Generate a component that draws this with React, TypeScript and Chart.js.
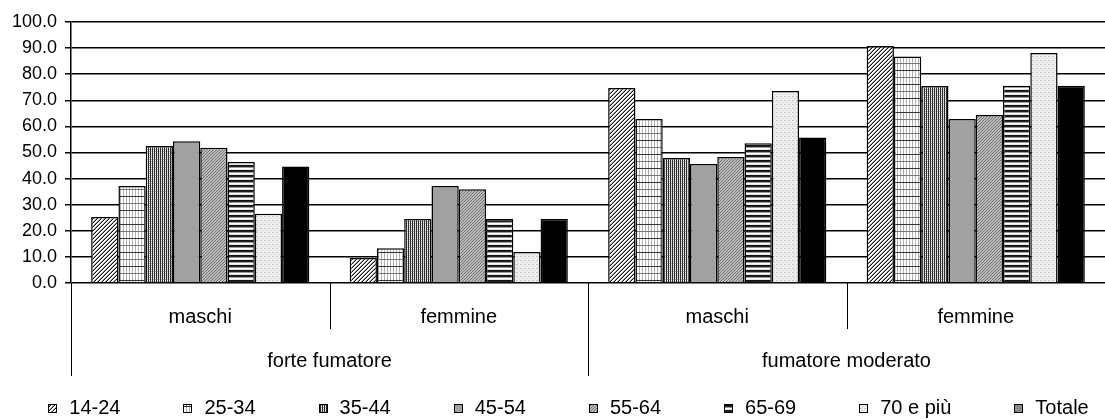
import React, { useEffect, useRef } from 'react';
import { Chart, registerables } from 'chart.js';

Chart.register(...registerables);

// ---- data ----
const groups = ['forte fumatore', 'fumatore moderato'];
const categories = ['maschi', 'femmine', 'maschi', 'femmine'];
const categoryGroups = ['forte fumatore', 'forte fumatore', 'fumatore moderato', 'fumatore moderato'];
const seriesNames = ['14-24', '25-34', '35-44', '45-54', '55-64', '65-69', '70 e più', 'Totale'];
const v1424 = [25.3, 9.6, 74.7, 90.8];
const v2534 = [37.2, 13.3, 62.8, 86.8];
const v3544 = [52.5, 24.5, 47.9, 75.5];
const v4554 = [54.3, 37.2, 45.6, 62.8];
const v5564 = [51.8, 35.9, 48.3, 64.4];
const v6569 = [46.4, 24.5, 53.5, 75.6];
const v70 = [26.5, 11.9, 73.6, 88.1];
const vTot = [44.6, 24.5, 55.7, 75.6];
const seriesValues = [v1424, v2534, v3544, v4554, v5564, v6569, v70, vTot];
const yMin = 0;
const yMax = 100;
const yStep = 10;

const FONT_FAMILY = "'Liberation Sans', Arial, sans-serif";
const AXIS_FONT_SIZE = 18;
const LABEL_FONT_SIZE = 20;
const LABEL_FONT = `${LABEL_FONT_SIZE}px ${FONT_FAMILY}`;

type Painter = (g: CanvasRenderingContext2D) => void;

function tile(w: number, h: number, paint: Painter): HTMLCanvasElement {
  const c = document.createElement('canvas');
  c.width = w;
  c.height = h;
  const g = c.getContext('2d')!;
  paint(g);
  return c;
}

function px(g: CanvasRenderingContext2D, x: number, y: number, color: string) {
  g.fillStyle = color;
  g.fillRect(x, y, 1, 1);
}

function makePatterns(ctx: CanvasRenderingContext2D): (CanvasPattern | string)[] {
  const pat = (c: HTMLCanvasElement) => ctx.createPattern(c, 'repeat') as CanvasPattern;
  // 14-24: upward diagonal lines on white
  const p1 = tile(4, 4, (g) => {
    g.fillStyle = '#fff';
    g.fillRect(0, 0, 4, 4);
    for (let y = 0; y < 4; y++)
      for (let x = 0; x < 4; x++) {
        const k = (x + y) % 4;
        if (k === 3) px(g, x, y, '#111');
        else if (k === 2) px(g, x, y, '#a0a0a0');
      }
  });
  // 25-34: grid, fine vertical grey lines, darker horizontal lines
  const p2 = tile(3, 14, (g) => {
    g.fillStyle = '#fff';
    g.fillRect(0, 0, 3, 14);
    for (let y = 0; y < 14; y++) px(g, 0, y, '#b0b0b0');
    for (let x = 0; x < 3; x++) {
      px(g, x, 0, '#333');
      px(g, x, 7, '#777');
    }
  });
  // 35-44: dense vertical dashes
  const p3 = tile(2, 2, (g) => {
    px(g, 0, 0, '#222');
    px(g, 0, 1, '#333');
    px(g, 1, 0, '#fff');
    px(g, 1, 1, '#b5b5b5');
  });
  // 45-54: medium grey, fine dots
  const p4 = tile(2, 2, (g) => {
    px(g, 0, 0, '#999');
    px(g, 1, 0, '#a8a8a8');
    px(g, 0, 1, '#a8a8a8');
    px(g, 1, 1, '#9c9c9c');
  });
  // 55-64: grey with darker diagonal lines
  const p5 = tile(3, 3, (g) => {
    for (let y = 0; y < 3; y++)
      for (let x = 0; x < 3; x++) {
        px(g, x, y, (x + y) % 3 === 2 ? '#6e6e6e' : '#bdbdbd');
      }
  });
  // 65-69: horizontal stripes
  const p6 = tile(1, 5, (g) => {
    const rows = ['#111', '#222', '#9a9a9a', '#fff', '#e6e6e6'];
    rows.forEach((c, y) => px(g, 0, y, c));
  });
  // 70 e più: light dotted grey
  const p7 = tile(4, 4, (g) => {
    g.fillStyle = '#eeeeee';
    g.fillRect(0, 0, 4, 4);
    px(g, 0, 0, '#c4c4c4');
    px(g, 1, 0, '#cfcfcf');
    px(g, 2, 2, '#d2d2d2');
  });
  return [pat(p1), pat(p2), pat(p3), pat(p4), pat(p5), pat(p6), pat(p7), '#000'];
}

const categoryAxisPlugin = {
  id: 'categoryAxis',
  afterDraw(chart: any) {
    const { ctx, chartArea: a } = chart;
    const x = chart.scales.x;
    const n = categories.length;
    const step = x.getPixelForValue(1) - x.getPixelForValue(0);
    const edge = (i: number) => x.getPixelForValue(0) + (i - 0.5) * step;
    ctx.save();
    ctx.strokeStyle = '#000';
    ctx.lineWidth = 1;
    for (let i = 0; i <= n; i++) {
      const major = i === 0 || i === n || categoryGroups[i] !== categoryGroups[i - 1];
      const lx = Math.round(edge(i)) + 0.5;
      ctx.beginPath();
      ctx.moveTo(lx, a.bottom);
      ctx.lineTo(lx, a.bottom + (major ? 93 : 46));
      ctx.stroke();
    }
    ctx.fillStyle = '#000';
    ctx.font = LABEL_FONT;
    ctx.textAlign = 'center';
    ctx.textBaseline = 'alphabetic';
    categories.forEach((c, i) => ctx.fillText(c, x.getPixelForValue(i), a.bottom + 40));
    groups.forEach((gName) => {
      const idx = categoryGroups.map((g, i) => (g === gName ? i : -1)).filter((i) => i >= 0);
      const cx = (edge(idx[0]) + edge(idx[idx.length - 1] + 1)) / 2;
      ctx.fillText(gName, cx, a.bottom + 84);
    });
    ctx.restore();
  },
};

const swatchLegendPlugin = {
  id: 'swatchLegend',
  afterDraw(chart: any) {
    const { ctx } = chart;
    const box = 9;
    const gap = 12;
    const spacing = 63;
    ctx.save();
    ctx.font = LABEL_FONT;
    const items = chart.data.datasets.map((d: any) => ({
      label: d.label as string,
      fill: d.legendFill ?? d.backgroundColor,
      w: box + gap + ctx.measureText(d.label).width,
    }));
    const total = items.reduce((s: number, it: any) => s + it.w, 0) + spacing * (items.length - 1);
    let cx = chart.width / 2 + 16 - total / 2;
    const cy = chart.height - 11;
    ctx.textBaseline = 'middle';
    ctx.textAlign = 'left';
    items.forEach((it: any) => {
      const bx = Math.round(cx);
      const by = Math.round(cy - box / 2);
      ctx.fillStyle = it.fill;
      ctx.fillRect(bx, by, box, box);
      ctx.strokeStyle = '#000';
      ctx.lineWidth = 1;
      ctx.strokeRect(bx + 0.5, by + 0.5, box - 1, box - 1);
      ctx.fillStyle = '#000';
      ctx.fillText(it.label, cx + box + gap, cy);
      cx += it.w + spacing;
    });
    ctx.restore();
  },
};

export default function App() {
  const ref = useRef<HTMLCanvasElement | null>(null);
  useEffect(() => {
    const canvas = ref.current!;
    const ctx = canvas.getContext('2d')!;
    const fills = makePatterns(ctx);
    const datasets = seriesNames.map((name, i) => ({
      label: name,
      data: seriesValues[i],
      backgroundColor: fills[i],
      legendFill: name === 'Totale' ? '#8a8a8a' : fills[i],
      borderColor: '#000',
      borderWidth: 1.5,
      borderSkipped: 'bottom' as const,
      categoryPercentage: 0.844,
      barPercentage: 1.0,
    }));
    const chart = new Chart(canvas, {
      type: 'bar',
      data: { labels: categories, datasets },
      options: {
        animation: false,
        responsive: false,
        maintainAspectRatio: false,
        layout: { padding: { left: 3, right: -10, top: 22, bottom: 136 } },
        plugins: {
          legend: { display: false },
          tooltip: { enabled: false },
          title: { display: false },
        },
        scales: {
          x: {
            type: 'category',
            display: false,
            offset: true,
          },
          y: {
            min: yMin,
            max: yMax,
            afterFit: (s: any) => {
              s.width = 68;
            },
            ticks: {
              stepSize: yStep,
              color: '#000',
              padding: 8,
              font: { family: FONT_FAMILY, size: AXIS_FONT_SIZE },
              callback: (v: any) => Number(v).toFixed(1),
            },
            grid: { color: '#000', lineWidth: 1.5, tickLength: 6, drawTicks: true },
            border: { color: '#000', width: 1.5 },
          },
        },
      },
      plugins: [categoryAxisPlugin, swatchLegendPlugin],
    });
    return () => chart.destroy();
  }, []);
  return (
    <div style={{ position: 'fixed', left: 0, top: 0, width: 1105, height: 419, background: '#fff' }}>
      <canvas ref={ref} width={1105} height={419} style={{ width: 1105, height: 419, display: 'block' }} />
    </div>
  );
}
